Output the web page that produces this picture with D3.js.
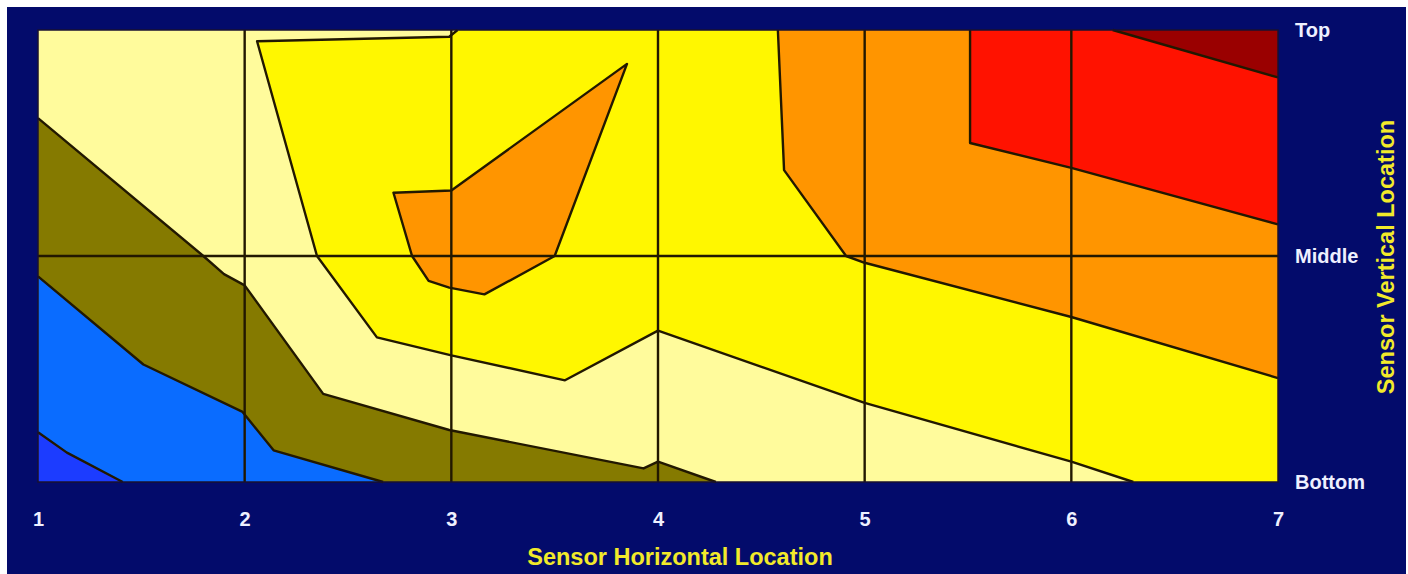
<!DOCTYPE html>
<html><head><meta charset="utf-8">
<script src="https://cdn.jsdelivr.net/npm/d3@7"></script>
<style>html,body{margin:0;padding:0;background:#fff;}svg{display:block;}</style>
</head><body>
<svg id="chart" width="1408" height="574"></svg>
<script>
// ---- Data (x: horizontal sensor location 1..7, y: vertical 0=Bottom,1=Middle,2=Top)
const xTicks = [1, 2, 3, 4, 5, 6, 7];
const yTickLabels = ["Bottom", "Middle", "Top"];
const xTitle = "Sensor Horizontal Location";
const yTitle = "Sensor Vertical Location";

// contour band boundaries (data coordinates)
const darkBlueEdge = [[1,0.22],[1.14,0.13],[1.41,0]];
const lightBlueEdge = [[1,0.91],[1.51,0.52],[1.99,0.31],[2.14,0.14],[2.67,0]];
const oliveEdge = [[1,1.61],[1.80,1.00],[1.90,0.92],[2.00,0.87],[2.38,0.39],[2.99,0.23],[3.93,0.06],[4.00,0.09],[4.28,0]];
const yellowEdge = [[3.03,2],[2.99,1.97],[2.06,1.95],[2.35,1.00],[2.64,0.64],[3.00,0.56],[3.55,0.45],[4.00,0.67],[5.00,0.35],[6.00,0.09],[6.30,0]];
const orangeEdge = [[4.58,2],[4.61,1.38],[4.91,1.00],[5.00,0.97],[6.00,0.73],[7,0.46]];
const redEdge = [[5.51,2],[5.51,1.50],[6.00,1.39],[7,1.14]];
const darkRedEdge = [[6.20,2],[7,1.79]];
const orangeIsland = [[2.72,1.28],[3.00,1.29],[3.85,1.85],[3.50,1.00],[3.16,0.83],[2.99,0.86],[2.89,0.89],[2.81,1.00]];

const colors = {
  bg: "#030b6b", lightYellow: "#fffb9c", yellow: "#fff700", orange: "#ff9500",
  red: "#ff1200", darkRed: "#9a0000", olive: "#857a00", lightBlue: "#0a6cff", darkBlue: "#1c3cff",
  line: "#221800"
};

const svg = d3.select("#chart");
const W = 1408, H = 574;
const plot = {left: 38, right: 1278, top: 30, bottom: 482};

svg.append("rect").attr("x", 7).attr("y", 7).attr("width", W - 9).attr("height", H - 7).attr("fill", colors.bg);

const x = d3.scaleLinear().domain([1, 7]).range([plot.left, plot.right]);
const y = d3.scaleLinear().domain([0, 2]).range([plot.bottom, plot.top]);
const line = d3.line().x(d => x(d[0])).y(d => y(d[1]));

const g = svg.append("g");
g.append("path").attr("d", line([[1,0],[7,0],[7,2],[1,2]]) + "Z").attr("fill", colors.lightYellow);

const bands = [
  {pts: yellowEdge.concat([[7,0],[7,2]]), fill: colors.yellow},
  {pts: orangeEdge.concat([[7,2]]), fill: colors.orange},
  {pts: redEdge.concat([[7,2]]), fill: colors.red},
  {pts: darkRedEdge.concat([[7,2]]), fill: colors.darkRed},
  {pts: oliveEdge.concat([[1,0]]), fill: colors.olive},
  {pts: lightBlueEdge.concat([[1,0]]), fill: colors.lightBlue},
  {pts: darkBlueEdge.concat([[1,0]]), fill: colors.darkBlue},
  {pts: orangeIsland, fill: colors.orange}
];
g.selectAll("path.band").data(bands).join("path")
  .attr("class", "band").attr("d", d => line(d.pts) + "Z").attr("fill", d => d.fill);

const edges = [darkBlueEdge, lightBlueEdge, oliveEdge, yellowEdge, orangeEdge, redEdge, darkRedEdge];
g.selectAll("path.edge").data(edges).join("path").attr("class", "edge")
  .attr("d", d => line(d)).attr("fill", "none").attr("stroke", colors.line).attr("stroke-width", 2.4).attr("stroke-linejoin", "round");
g.append("path").attr("d", line(orangeIsland) + "Z").attr("fill", "none").attr("stroke", colors.line).attr("stroke-width", 2.4).attr("stroke-linejoin", "round");

const gridX = xTicks.slice(1, -1);
g.selectAll("line.gx").data(gridX).join("line").attr("class", "gx")
  .attr("x1", d => x(d)).attr("x2", d => x(d)).attr("y1", y(0)).attr("y2", y(2))
  .attr("stroke", colors.line).attr("stroke-width", 2.4);
g.append("line").attr("x1", x(1)).attr("x2", x(7)).attr("y1", y(1)).attr("y2", y(1))
  .attr("stroke", colors.line).attr("stroke-width", 2.4);
g.append("rect").attr("x", x(1)).attr("y", y(2)).attr("width", x(7) - x(1)).attr("height", y(0) - y(2))
  .attr("fill", "none").attr("stroke", "#1a1230").attr("stroke-width", 1.5);

const font = "'Liberation Sans', Arial, sans-serif";
const xAxis = d3.axisBottom(x).tickValues(xTicks).tickFormat(d3.format("d")).tickSize(0);
const xa = svg.append("g").attr("transform", `translate(0,${plot.bottom})`).call(xAxis);
xa.select(".domain").remove();
xa.selectAll("text").attr("fill", "#eef0ff").attr("font-family", font)
  .attr("font-weight", "bold").attr("font-size", 20).attr("dy", "0.35em").attr("y", 37);

const yAxis = d3.axisRight(y).tickValues([0, 1, 2]).tickFormat(d => yTickLabels[d]).tickSize(0).tickPadding(17);
const ya = svg.append("g").attr("transform", `translate(${plot.right},0)`).call(yAxis);
ya.select(".domain").remove();
ya.selectAll("text").attr("fill", "#eef0ff").attr("font-family", font)
  .attr("font-weight", "bold").attr("font-size", 20);

svg.append("text").attr("x", 680).attr("y", 557).attr("text-anchor", "middle").attr("dy", "0.35em")
  .attr("fill", "#f2ea2a").attr("font-family", font).attr("font-weight", "bold")
  .attr("font-size", 23.5).text(xTitle);
svg.append("text").attr("transform", "translate(1386,257) rotate(-90)").attr("text-anchor", "middle").attr("dy", "0.35em")
  .attr("fill", "#f2ea2a").attr("font-family", font).attr("font-weight", "bold")
  .attr("font-size", 23.5).text(yTitle);
</script>
</body></html>
